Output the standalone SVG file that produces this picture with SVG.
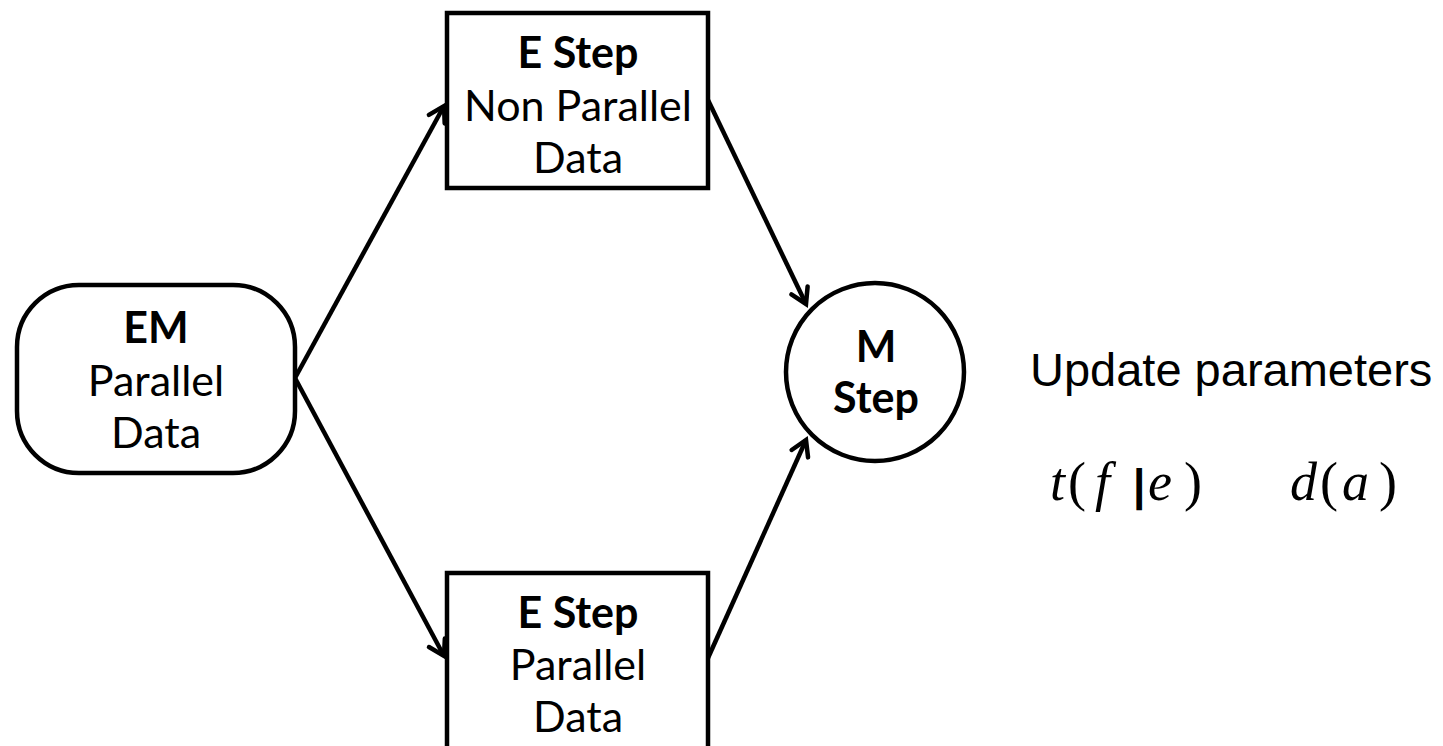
<svg xmlns="http://www.w3.org/2000/svg" width="1443" height="746" viewBox="0 0 1443 746">
<style>
.shape{fill:#fff;stroke:#000;stroke-width:4.5}
.lbl{font-family:Lato,"Open Sans",sans-serif;font-size:43px;fill:#000;text-anchor:middle}
.b{font-weight:bold}
.conn{stroke:#000;stroke-width:4.5;fill:none;marker-end:url(#arr)}
.arial{font-family:"Liberation Sans",Arial,sans-serif;font-size:47px;fill:#000}
.math{font-family:"Liberation Serif","Times New Roman",serif;font-size:54px;fill:#000}
.it{font-style:italic}
</style>
<defs>
<marker id="arr" markerUnits="userSpaceOnUse" markerWidth="24" markerHeight="24" viewBox="0 0 24 24" refX="20" refY="12" orient="auto">
<path d="M5,3 L20,12 L5,21" fill="none" stroke="#000" stroke-width="4.5" stroke-linecap="round" stroke-linejoin="miter"/>
</marker>
</defs>
<rect width="1443" height="746" fill="#fff"/>
<g id="connectors">
<line class="conn" x1="295" y1="378" x2="444" y2="106"/>
<line class="conn" x1="295" y1="378" x2="444" y2="656"/>
<line class="conn" x1="708" y1="100" x2="806" y2="304"/>
<line class="conn" x1="708" y1="658" x2="806" y2="440"/>
</g>
<g id="em">
<rect class="shape" x="17" y="285" width="278" height="188" rx="62" ry="62"/>
<text class="lbl b" x="156" y="343">EM</text>
<text class="lbl" x="156" y="396">Parallel</text>
<text class="lbl" x="156" y="448">Data</text>
</g>
<g id="estep-nonparallel">
<rect class="shape" x="447" y="13" width="261" height="175"/>
<text class="lbl b" x="578" y="68">E Step</text>
<text class="lbl" x="578" y="121">Non Parallel</text>
<text class="lbl" x="578" y="173">Data</text>
</g>
<g id="estep-parallel">
<rect class="shape" x="447" y="573" width="261" height="180"/>
<text class="lbl b" x="578" y="628">E Step</text>
<text class="lbl" x="578" y="680">Parallel</text>
<text class="lbl" x="578" y="732">Data</text>
</g>
<g id="mstep">
<circle class="shape" cx="875" cy="372" r="89"/>
<text class="lbl b" x="876" y="362">M</text>
<text class="lbl b" x="876" y="413">Step</text>
</g>
<g id="update">
<text class="arial" x="1030" y="386">Update parameters</text>
<text class="math"><tspan class="it" x="1050" y="500">t</tspan><tspan x="1068" y="500">(</tspan><tspan class="it" x="1095" y="500">f</tspan><tspan x="1133" y="500" font-family="Liberation Sans, sans-serif" font-weight="bold" font-size="44">|</tspan><tspan class="it" x="1148" y="500">e</tspan><tspan x="1184" y="500">)</tspan><tspan class="it" x="1290" y="500">d</tspan><tspan x="1320" y="500">(</tspan><tspan class="it" x="1342" y="500">a</tspan><tspan x="1379" y="500">)</tspan></text>
</g>
</svg>
